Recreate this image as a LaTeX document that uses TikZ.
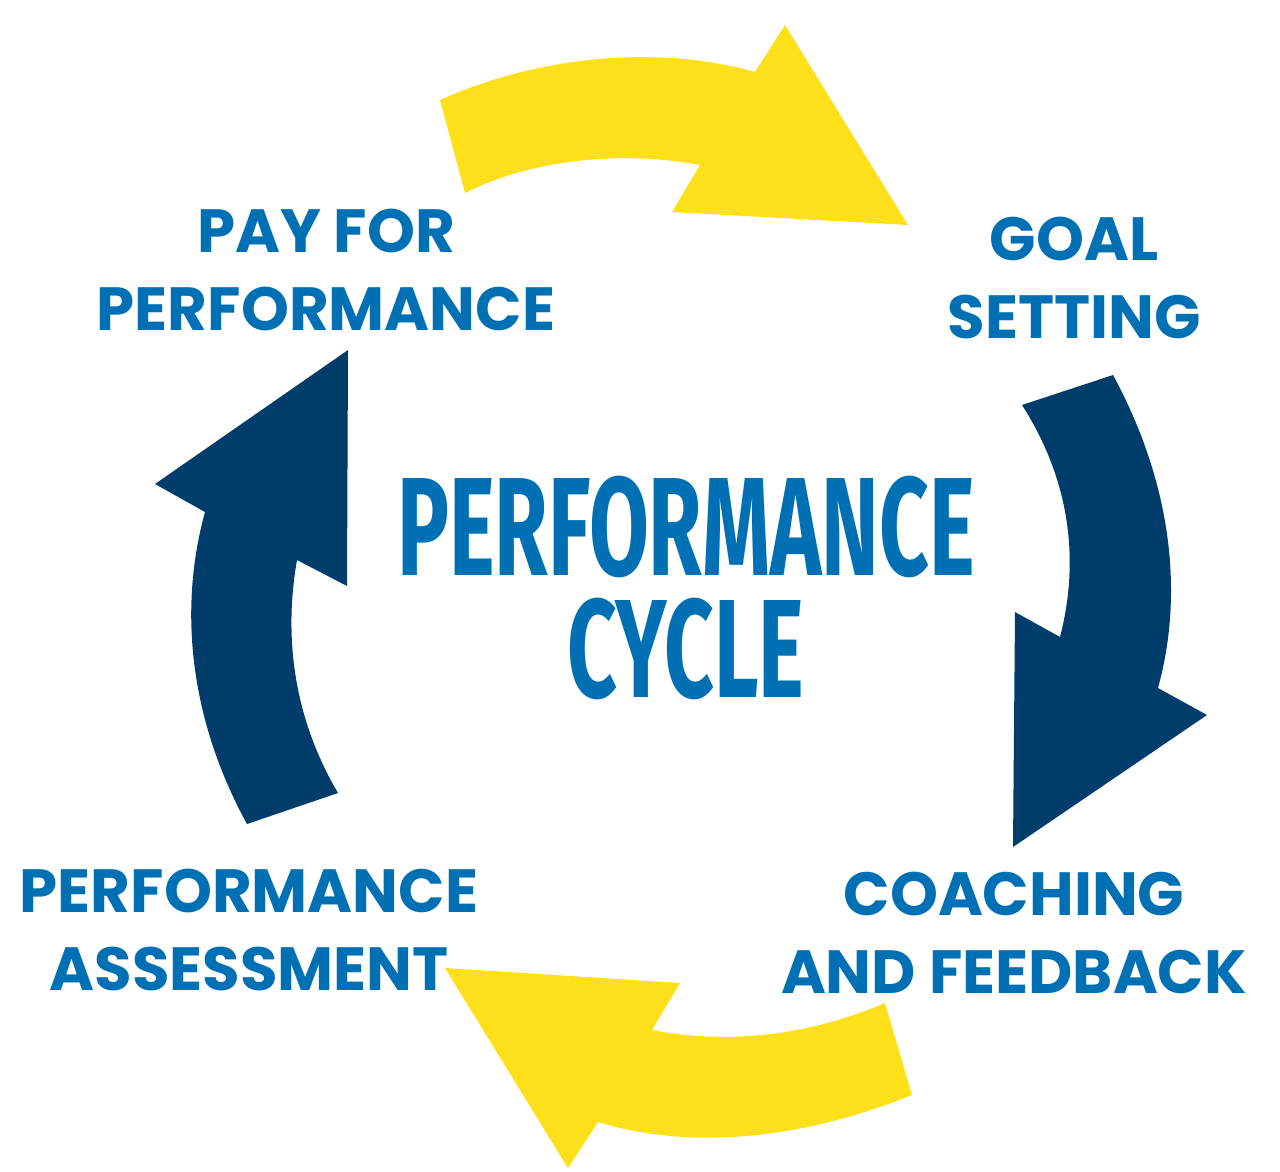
\documentclass[tikz,border=0pt]{standalone}
\usepackage{fontspec}
\usepackage{graphicx}
\newfontfamily\poppins{Poppins}
\newfontfamily\fira{Fira Sans}
\definecolor{cyclenavy}{RGB}{0,61,107}
\definecolor{cycleyellow}{RGB}{253,224,26}
\definecolor{cycleblue}{RGB}{0,112,180}
\newcommand{\narrowtitle}[1]{\scalebox{0.62}[1]{#1}}
\tikzset{
  every picture/.style={line width=0.75pt},
  lbl/.style={text=cycleblue, align=center, font=\poppins\bfseries\fontsize{61}{78}\selectfont},
  ttl/.style={text=cycleblue, inner sep=0pt, font=\fira\bfseries\fontsize{140}{122}\selectfont}
}
\begin{document}
\begin{tikzpicture}[x=1pt,y=1pt,yscale=-1,xscale=1]
	\useasboundingbox (0,0) rectangle (1280,1171);

	%Shape: Arrow top
	\fill [cycleyellow] (440,100) .. controls (540,55) and (660,45) .. (755,72) -- (785,25) -- (908,225) -- (672,212) -- (700,165) .. controls (620,150) and (530,160) .. (465,193) -- cycle ;
	%Shape: Arrow right
	\fill [cyclenavy] (1113,375) .. controls (1170,480) and (1185,590) .. (1158,688) -- (1207,715) -- (1013,847) -- (1015,612) -- (1060,637) .. controls (1080,560) and (1070,480) .. (1022,405) -- cycle ;
	%Shape: Arrow bottom
	\fill [cycleyellow] (912,1095) .. controls (800,1140) and (690,1150) .. (598,1122) -- (568,1168) -- (445,968) -- (680,983) -- (652,1030) .. controls (730,1045) and (810,1035) .. (885,1003) -- cycle ;
	%Shape: Arrow left
	\fill [cyclenavy] (247,824) .. controls (190,720) and (178,610) .. (205,512) -- (155,484) -- (348,350) -- (347,586) -- (297,560) .. controls (283,640) and (295,720) .. (338,793) -- cycle ;

	% Text Node
	\node [lbl] (pay) at (326,270) {PAY FOR\\PERFORMANCE};
	\node [lbl] (goal) at (1074,278) {GOAL\\SETTING};
	\node [lbl] (coach) at (1014,933) {COACHING\\AND FEEDBACK};
	\node [lbl] (assess) at (249,930) {PERFORMANCE\\ASSESSMENT};
	\node [ttl, anchor=base] (title) at (686,575) {\narrowtitle{PERFORMANCE}};
	\node [ttl, anchor=base] (cycle) at (686,697) {\narrowtitle{CYCLE}};

\end{tikzpicture}
\end{document}
